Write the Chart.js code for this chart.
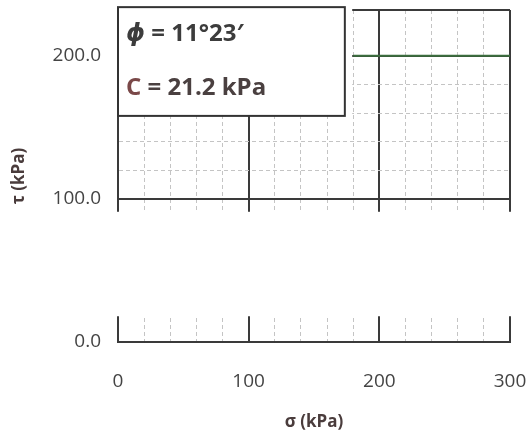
<!DOCTYPE html>
<html>
<head>
<meta charset="utf-8">
<script src="https://cdn.jsdelivr.net/npm/chart.js@4.4.1/dist/chart.umd.min.js"></script>
<style>
  html, body { margin: 0; padding: 0; background: #fff; }
  #wrap { width: 528px; height: 433px; }
</style>
</head>
<body>
<div id="wrap"><canvas id="c" width="528" height="433"></canvas></div>
<script>
// Strength line: normal stress σ and shear stress τ (kPa)
const sigmaValues = [180, 300];
const tauValues = [200, 200];

// Axis ranges and labelled ticks
const sigmaRange = [0, 300];
const tauRange = [0, 232];
const sigmaLabels = [0, 100, 200, 300];
const tauLabels = [0, 100, 200];

// Parameter box text
const phiSymbol = 'ϕ';
const phiText = '= 11°23′';
const cSymbol = 'C';
const cText = '= 21.2 kPa';

// Omitted τ band (axis break) and box extent, in data units
const breakBand = [18, 91];
const boxSigma = [0, 173.6];
const boxTau = [158, 234];
const clearSigmaMax = 180;

const MAJOR = '#3a3a3a';
const MINOR = '#c4c4c4';
const FONT = '"Open Sans", "DejaVu Sans", sans-serif';

const isMajor = (v) => v % 100 === 0 || v === tauRange[1];

function gridColor(ctx) {
  return ctx.tick && isMajor(ctx.tick.value) ? MAJOR : MINOR;
}
function gridWidth(ctx) {
  return ctx.tick && isMajor(ctx.tick.value) ? 2 : 1;
}
function gridDash(ctx) {
  if (!ctx.tick) return [];
  return isMajor(ctx.tick.value) ? [] : [4, 3];
}

const overlay = {
  id: 'overlay',
  afterDatasetsDraw(chart) {
    const { ctx, chartArea, scales } = chart;
    const x = scales.x, y = scales.y;
    ctx.save();
    // axis break: blank band across the plot
    const yTop = y.getPixelForValue(breakBand[1]);
    const yBot = y.getPixelForValue(breakBand[0]);
    ctx.fillStyle = '#ffffff';
    ctx.fillRect(chartArea.left - 3, yTop, chartArea.right - chartArea.left + 6, yBot - yTop);

    // clear area behind the parameter box
    const bx0 = x.getPixelForValue(boxSigma[0]);
    const bx1 = x.getPixelForValue(boxSigma[1]);
    const by0 = y.getPixelForValue(boxTau[1]);
    const by1 = y.getPixelForValue(boxTau[0]);
    const cx1 = x.getPixelForValue(clearSigmaMax) - 1;
    ctx.fillRect(bx0 - 3, by0 - 3, cx1 - bx0 + 3, by1 - by0 + 3);

    // parameter box
    ctx.strokeStyle = '#333333';
    ctx.lineWidth = 2;
    ctx.strokeRect(bx0, by0, bx1 - bx0, by1 - by0);

    ctx.textBaseline = 'middle';
    ctx.textAlign = 'left';
    const tx = bx0 + 8;
    const row1 = by0 + (by1 - by0) * 0.245;
    const row2 = by0 + (by1 - by0) * 0.745;

    ctx.fillStyle = '#3c3c3c';
    ctx.font = 'italic bold 24px ' + FONT;
    ctx.fillText(phiSymbol, tx, row1);
    const pw = ctx.measureText(phiSymbol + ' ').width;
    ctx.font = 'bold 24px ' + FONT;
    ctx.fillText(phiText, tx + pw, row1);

    ctx.fillStyle = '#7a4848';
    ctx.fillText(cSymbol, tx, row2);
    const cw = ctx.measureText(cSymbol + ' ').width;
    ctx.fillStyle = '#4a4040';
    ctx.fillText(cText, tx + cw, row2);
    ctx.restore();
  }
};

new Chart(document.getElementById('c'), {
  type: 'scatter',
  data: {
    datasets: [{
      data: sigmaValues.map((s, i) => ({ x: s, y: tauValues[i] })),
      showLine: true,
      borderColor: '#3b6e3e',
      borderWidth: 2,
      pointRadius: 0,
      fill: false
    }]
  },
  options: {
    responsive: false,
    animation: false,
    layout: { padding: { top: 10, right: 18, left: 0, bottom: 0 } },
    plugins: { legend: { display: false }, tooltip: { enabled: false } },
    scales: {
      x: {
        type: 'linear',
        min: sigmaRange[0],
        max: sigmaRange[1],
        afterFit: (s) => { s.height = 91; },
        ticks: {
          stepSize: 20,
          autoSkip: false,
          maxRotation: 0,
          padding: 0,
          color: '#444444',
          font: { family: FONT, size: 19 },
          callback: (v) => sigmaLabels.includes(v) ? String(v) : ''
        },
        grid: {
          color: gridColor, lineWidth: gridWidth,
          drawTicks: true, tickLength: 28, tickColor: 'rgba(0,0,0,0)'
        },
        border: { display: true, color: MAJOR, width: 2, dash: gridDash },
        title: {
          display: true,
          text: 'σ (kPa)',
          color: '#4a3c3c',
          font: { family: FONT, size: 17, weight: 'bold' },
          padding: { top: 0, bottom: 1 }
        }
      },
      y: {
        type: 'linear',
        min: tauRange[0],
        max: tauRange[1],
        afterFit: (s) => { s.width = 118; },
        ticks: {
          stepSize: 20,
          autoSkip: false,
          padding: 0,
          color: '#444444',
          font: { family: FONT, size: 19, lineHeight: 1 },
          callback: (v) => tauLabels.includes(v) ? v.toFixed(1) : ''
        },
        grid: {
          color: gridColor, lineWidth: gridWidth,
          drawTicks: true, tickLength: 17, tickColor: 'rgba(0,0,0,0)'
        },
        border: { display: true, color: MAJOR, width: 2, dash: gridDash },
        title: {
          display: true,
          text: 'τ (kPa)',
          color: '#4a3c3c',
          font: { family: FONT, size: 17, weight: 'bold' },
          padding: { top: 9, bottom: 0 }
        }
      }
    }
  },
  plugins: [overlay]
});
</script>
</body>
</html>
